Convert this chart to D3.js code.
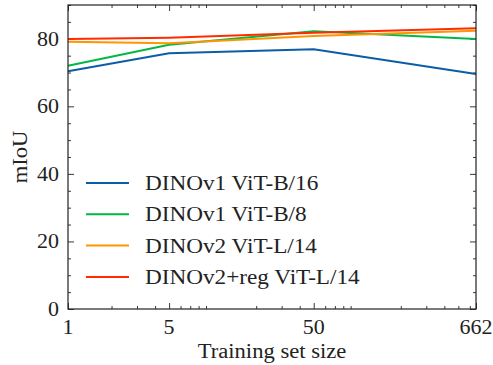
<!DOCTYPE html>
<html>
<head>
<meta charset="utf-8">
<script src="https://cdn.jsdelivr.net/npm/d3@7"></script>
<style>
  body { margin: 0; background: #fff; }
  svg text { font-family: "Liberation Serif", "Times New Roman", serif; fill: #222; }
</style>
</head>
<body>
<svg id="chart" width="493" height="365"></svg>
<script>
// training set sizes on the x axis
var sizes = [1, 5, 50, 662];
var yTicks = [0, 20, 40, 60, 80];

var seriesNames = ["DINOv1 ViT-B/16", "DINOv1 ViT-B/8", "DINOv2 ViT-L/14", "DINOv2+reg ViT-L/14"];
var dinov1B16 = [70.4, 75.7, 76.9, 69.6];
var dinov1B8 = [72.0, 78.2, 82.2, 79.9];
var dinov2L14 = [79.1, 78.7, 80.8, 82.4];
var dinov2regL14 = [79.9, 80.3, 81.8, 83.1];
var colors = ["#0C5DA5", "#00B945", "#FF9500", "#FF2C00"];

var series = [dinov1B16, dinov1B8, dinov2L14, dinov2regL14];

var margin = {left: 68, right: 17, top: 5, bottom: 56};
var width = 493 - margin.left - margin.right;
var height = 365 - margin.top - margin.bottom;

var svg = d3.select("#chart");
var g = svg.append("g").attr("transform", "translate(" + margin.left + "," + margin.top + ")");

var x = d3.scaleLog().domain([1, 662]).range([0, width]);
var y = d3.scaleLinear().domain([0, 90]).range([height, 0]);

// stretch Times-like glyphs a bit so they take the room of Computer Modern
function widen(sel, k) {
  sel.each(function () {
    var w = this.getComputedTextLength();
    d3.select(this).attr("textLength", w * k).attr("lengthAdjust", "spacingAndGlyphs");
  });
}

// minor ticks for the log axis
var xMinor = [];
[1, 10, 100].forEach(function (dec) {
  for (var k = 2; k <= 9; k++) {
    var v = k * dec;
    if (v < 662 && sizes.indexOf(v) < 0) xMinor.push(v);
  }
});
var yMinor = d3.range(0, 91, 5).filter(function (v) { return v % 20 !== 0; });

function ticks(axis, vals, len) {
  return axis.tickValues(vals).tickSize(-len).tickFormat("");
}

// inward ticks on all four sides
g.append("g").attr("transform", "translate(0," + height + ")")
  .call(ticks(d3.axisBottom(x), sizes, 6));
g.append("g").attr("transform", "translate(0," + height + ")")
  .call(ticks(d3.axisBottom(x), xMinor, 3));
g.append("g").call(ticks(d3.axisTop(x), sizes, 6));
g.append("g").call(ticks(d3.axisTop(x), xMinor, 3));
g.append("g").call(ticks(d3.axisLeft(y), yTicks, 6));
g.append("g").call(ticks(d3.axisLeft(y), yMinor, 3));
g.append("g").attr("transform", "translate(" + width + ",0)")
  .call(ticks(d3.axisRight(y), yTicks, 6));
g.append("g").attr("transform", "translate(" + width + ",0)")
  .call(ticks(d3.axisRight(y), yMinor, 3));

g.selectAll(".domain").remove();
g.selectAll(".tick line").attr("stroke", "#222").attr("stroke-width", 0.9);

// tick labels
var xl = g.selectAll(".xlab").data(sizes).enter().append("text")
  .attr("x", function (d) { return x(d); })
  .attr("y", height + 25)
  .attr("text-anchor", "middle")
  .style("font-size", "20px")
  .text(function (d) { return d; });
widen(xl, 1.1);

var yl = g.selectAll(".ylab").data(yTicks).enter().append("text")
  .attr("x", -9)
  .attr("y", function (d) { return y(d); })
  .attr("dy", "0.35em")
  .attr("text-anchor", "end")
  .style("font-size", "20px")
  .text(function (d) { return d; });
widen(yl, 1.1);

// lines
var line = d3.line()
  .x(function (d, i) { return x(sizes[i]); })
  .y(function (d) { return y(d); });

g.selectAll(".series").data(series).enter().append("path")
  .attr("fill", "none")
  .attr("stroke", function (d, i) { return colors[i]; })
  .attr("stroke-width", 2)
  .attr("d", line);

// frame
g.append("rect")
  .attr("width", width).attr("height", height)
  .attr("fill", "none").attr("stroke", "#222").attr("stroke-width", 1.2);

// legend
var legend = g.append("g").attr("transform", "translate(18,178)");
seriesNames.forEach(function (name, i) {
  var row = legend.append("g").attr("transform", "translate(0," + (i * 31.3) + ")");
  row.append("line").attr("x1", 0).attr("x2", 43)
    .attr("stroke", colors[i]).attr("stroke-width", 2);
  var t = row.append("text").attr("x", 59).attr("dy", "0.35em")
    .style("font-size", "20px")
    .text(name);
  widen(t, 1.16);
});

// axis titles
var xt = svg.append("text")
  .attr("x", margin.left + width / 2).attr("y", 358)
  .attr("text-anchor", "middle")
  .style("font-size", "20px")
  .text("Training set size");
widen(xt, 1.13);

var yt = svg.append("text")
  .attr("transform", "translate(27," + (margin.top + height / 2) + ") rotate(-90)")
  .attr("text-anchor", "middle")
  .style("font-size", "20px")
  .text("mIoU");
widen(yt, 1.13);
</script>
</body>
</html>
